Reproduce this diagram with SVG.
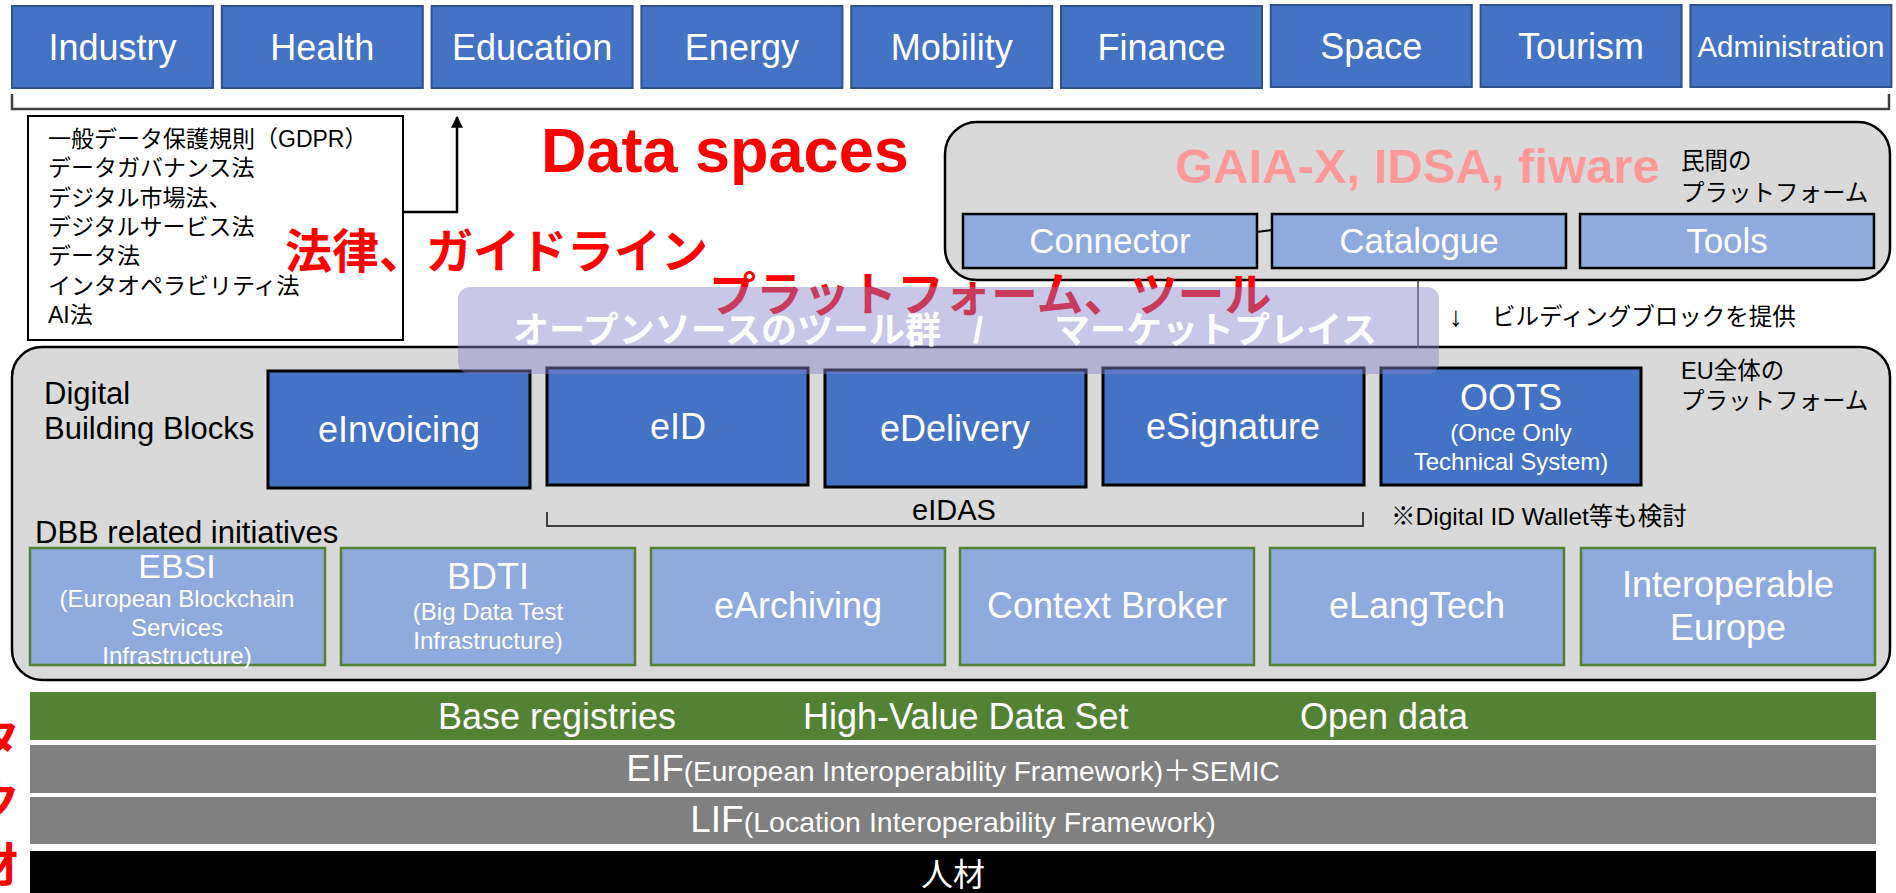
<svg xmlns="http://www.w3.org/2000/svg" width="1896" height="893" viewBox="0 0 1896 893">
<style>
.bg{fill:#fff}
.sector rect{fill:#4472C4;stroke:#2F528F;stroke-width:2}
.dbb rect{fill:#4472C4;stroke:#000;stroke-width:3}
.tool rect{fill:#8FAADC;stroke:#000;stroke-width:2.5}
.rel rect{fill:#8FAADC;stroke:#548235;stroke-width:2.5}
.panel{fill:#D9D9D9;stroke:#000;stroke-width:2.5}
text{font-family:"Liberation Sans","Noto Sans CJK JP",sans-serif}
.w{fill:#fff;text-anchor:middle}
.lbl{fill:#000}
.jp{font-family:"Noto Sans CJK JP","Liberation Sans",sans-serif}
.red{fill:#FF0000;font-weight:bold}
.conn{fill:none;stroke:#404040;stroke-width:2.5}
</style>
<defs>
<marker id="arr" viewBox="0 0 10 10" refX="9" refY="5" markerWidth="16" markerHeight="12" markerUnits="userSpaceOnUse" orient="auto">
<path d="M0,0 L10,5 L0,10 Z" fill="#000"/>
</marker>
</defs>
<rect class="bg" x="0" y="0" width="1896" height="893"/>

<g id="sectors" class="sector">
<g id="industry"><rect x="12" y="6" width="201" height="82"/><text class="w" x="112.5" y="60" font-size="36">Industry</text></g>
<g id="health"><rect x="221.8" y="6" width="201" height="82"/><text class="w" x="322.3" y="60" font-size="36">Health</text></g>
<g id="education"><rect x="431.6" y="6" width="201" height="82"/><text class="w" x="532.1" y="60" font-size="36">Education</text></g>
<g id="energy"><rect x="641.4" y="6" width="201" height="82"/><text class="w" x="741.9" y="60" font-size="36">Energy</text></g>
<g id="mobility"><rect x="851.2" y="6" width="201" height="82"/><text class="w" x="951.7" y="60" font-size="36">Mobility</text></g>
<g id="finance"><rect x="1061" y="6" width="201" height="82"/><text class="w" x="1161.5" y="60" font-size="36">Finance</text></g>
<g id="space"><rect x="1270.8" y="5" width="201" height="82"/><text class="w" x="1371.3" y="59" font-size="36">Space</text></g>
<g id="tourism"><rect x="1480.6" y="5" width="201" height="82"/><text class="w" x="1581.1" y="59" font-size="36">Tourism</text></g>
<g id="administration"><rect x="1690.4" y="5" width="201" height="82"/><text class="w" x="1790.9" y="57" font-size="29.5">Administration</text></g>
</g>

<g id="laws">
<rect x="28" y="116" width="375" height="224" fill="#fff" stroke="#000" stroke-width="2"/>
<g class="lbl" font-size="23">
<text x="48" y="147">一般データ保護規則（GDPR）</text>
<text x="48" y="176">データガバナンス法</text>
<text x="48" y="206">デジタル市場法、</text>
<text x="48" y="235">デジタルサービス法</text>
<text x="48" y="264">データ法</text>
<text x="48" y="294">インタオペラビリティ法</text>
<text x="48" y="323">AI法</text>
</g>
</g>

<g id="titles">
<text class="red" x="541" y="172" font-size="63">Data spaces</text>
<text class="red jp" x="285" y="268" font-size="47">法律、ガイドライン</text>
</g>

<g id="private-platform">
<rect class="panel" x="945" y="122" width="945" height="158" rx="32"/>
<text x="1175" y="183" font-size="49" font-weight="bold" fill="#FF9999">GAIA-X, IDSA, fiware</text>
<text class="lbl" x="1681" y="169" font-size="23.5">民間の</text>
<text class="lbl" x="1681" y="201" font-size="23.5">プラットフォーム</text>
<g class="tool">
<g id="connector"><rect x="963" y="214" width="294" height="54"/><text class="w" x="1110" y="253" font-size="35">Connector</text></g>
<g id="catalogue"><rect x="1272" y="214" width="294" height="54"/><text class="w" x="1419" y="253" font-size="35">Catalogue</text></g>
<g id="tools"><rect x="1580" y="214" width="294" height="54"/><text class="w" x="1727" y="253" font-size="35">Tools</text></g>
</g>
</g>

<g id="eu-platform">
<rect class="panel" x="12" y="347" width="1878" height="333" rx="30"/>
<text class="lbl" x="44" y="404" font-size="31">Digital</text>
<text class="lbl" x="44" y="439" font-size="31">Building Blocks</text>
<text class="lbl" x="1681" y="379" font-size="23.5">EU全体の</text>
<text class="lbl" x="1681" y="409" font-size="23.5">プラットフォーム</text>
<text class="lbl" x="35" y="543" font-size="31">DBB related initiatives</text>
<text class="lbl" x="954" y="520" font-size="29" text-anchor="middle">eIDAS</text>
<text class="lbl" x="1391" y="525" font-size="24.5">※Digital ID Wallet等も検討</text>
</g>

<g id="dbb" class="dbb">
<g id="einvoicing"><rect x="268" y="371" width="262" height="117"/><text class="w" x="399" y="442" font-size="36">eInvoicing</text></g>
<g id="eid"><rect x="547" y="368" width="261" height="117"/><text class="w" x="678" y="439" font-size="36">eID</text></g>
<g id="edelivery"><rect x="825" y="370" width="261" height="117"/><text class="w" x="955" y="441" font-size="36">eDelivery</text></g>
<g id="esignature"><rect x="1103" y="368" width="261" height="117"/><text class="w" x="1233" y="439" font-size="36">eSignature</text></g>
<g id="oots"><rect x="1381" y="368" width="260" height="117"/>
<text class="w" x="1511" y="410" font-size="36">OOTS</text>
<text class="w" x="1511" y="441" font-size="24">(Once Only</text>
<text class="w" x="1511" y="470" font-size="24">Technical System)</text></g>
</g>

<g id="dbb-related" class="rel">
<g id="ebsi"><rect x="30" y="548" width="295" height="117"/>
<text class="w" x="177" y="578" font-size="34">EBSI</text>
<text class="w" x="177" y="607" font-size="24">(European Blockchain</text>
<text class="w" x="177" y="636" font-size="24">Services</text>
<text class="w" x="177" y="664" font-size="24">Infrastructure)</text></g>
<g id="bdti"><rect x="341" y="548" width="294" height="117"/>
<text class="w" x="488" y="589" font-size="36">BDTI</text>
<text class="w" x="488" y="620" font-size="24">(Big Data Test</text>
<text class="w" x="488" y="649" font-size="24">Infrastructure)</text></g>
<g id="earchiving"><rect x="651" y="548" width="294" height="117"/><text class="w" x="798" y="618" font-size="36">eArchiving</text></g>
<g id="context-broker"><rect x="960" y="548" width="294" height="117"/><text class="w" x="1107" y="618" font-size="36">Context Broker</text></g>
<g id="elangtech"><rect x="1270" y="548" width="294" height="117"/><text class="w" x="1417" y="618" font-size="36">eLangTech</text></g>
<g id="interoperable-europe"><rect x="1581" y="548" width="294" height="117"/>
<text class="w" x="1728" y="597" font-size="36">Interoperable</text>
<text class="w" x="1728" y="640" font-size="36">Europe</text></g>
</g>

<g id="layers">
<g id="data-layer"><rect x="30" y="692" width="1846" height="48" fill="#548235"/>
<g fill="#fff" font-size="36"><text x="438" y="729">Base registries</text><text x="803" y="729">High-Value Data Set</text><text x="1300" y="729">Open data</text></g></g>
<g id="eif"><rect x="30" y="745" width="1846" height="48" fill="#808080"/>
<text class="w" x="953" y="781" font-size="28"><tspan font-size="37">EIF</tspan>(European Interoperability Framework)＋SEMIC</text></g>
<g id="lif"><rect x="30" y="797" width="1846" height="47" fill="#808080"/>
<text class="w" x="953" y="832" font-size="28.5"><tspan font-size="37">LIF</tspan>(Location Interoperability Framework)</text></g>
<g id="people"><rect x="30" y="851" width="1846" height="42" fill="#000"/>
<text class="w jp" x="953" y="886" font-size="32">人材</text></g>
</g>

<g id="side-label" class="red jp" font-size="46">
<text x="-26" y="755">タ</text>
<text x="-26" y="818">ク</text>
<text x="-28" y="881">材</text>
</g>

<g id="connectors">
<path class="conn" d="M12,94 V109 H1889 V94"/>
<path d="M403,212 H457 V117" fill="none" stroke="#000" stroke-width="2.5" marker-end="url(#arr)"/>
<path d="M547,512 V526 H1363 V512" fill="none" stroke="#404040" stroke-width="2"/>
<path d="M1257,232 L1272,230" stroke="#000" stroke-width="2"/>
<path d="M1418,280 V348" stroke="#404040" stroke-width="1.5"/>
</g>

<g id="platform-tools">
<text class="red jp" x="709" y="311" font-size="47">プラットフォーム、ツール</text>
<rect x="458" y="287" width="981" height="87" rx="12" fill="#8583CC" fill-opacity="0.45"/>
<g class="jp" fill="#fff" font-weight="bold" font-size="36">
<text x="513" y="343">オープンソースのツール群</text>
<text x="978" y="343" text-anchor="middle">/</text>
<text x="1054" y="343">マーケットプレイス</text>
</g>
<text class="lbl" x="1449" y="326" font-size="28">↓</text>
<text class="lbl" x="1492" y="325" font-size="23.5">ビルディングブロックを提供</text>
</g>
</svg>
